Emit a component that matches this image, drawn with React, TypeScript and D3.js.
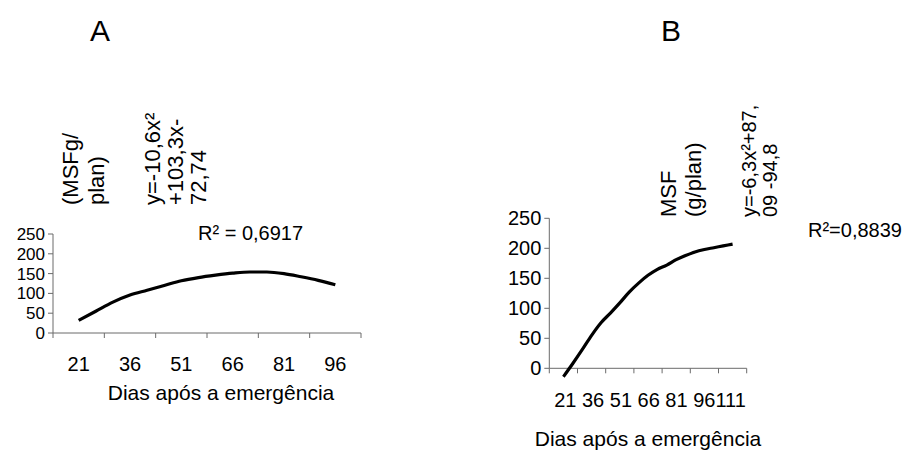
import React from "react";
import * as d3 from "d3";

// ---- Data ----
const daysA = [21, 26, 31, 36, 41, 46, 51, 56, 61, 66, 71, 76, 81, 86, 91, 96];
const valuesA = [32, 55, 78, 96, 108, 120, 132, 140, 146, 151, 154, 154, 150, 142, 133, 122];
const tickLabelsA = [21, 36, 51, 66, 81, 96];

const daysB = [21, 26, 31, 36, 41, 46, 51, 56, 61, 66, 71, 76, 81, 86, 91, 96, 101, 106, 111];
const valuesB = [-14, 8, 31, 55, 76, 92, 109, 127, 142, 155, 165, 172, 181, 188, 194, 198, 201, 204, 207];
const tickLabelsB = [21, 36, 51, 66, 81, 96, 111];

const yTicks = [0, 50, 100, 150, 200, 250];

const FONT = "'Liberation Sans', Arial, sans-serif";

type PanelProps = {
  days: number[];
  values: number[];
  cats: number[];
  x0: number;
  x1: number;
  yTop: number;
  yBot: number;
  tickBaseline: number;
  yFont: number;
  compact?: boolean;
};

function Panel({ days, values, cats, x0, x1, yTop, yBot, tickBaseline, yFont, compact }: PanelProps) {
  const step = 15;
  const dMin = cats[0] - step / 2;
  const dMax = cats[cats.length - 1] + step / 2;
  const x = d3.scaleLinear().domain([dMin, dMax]).range([x0, x1]);
  const y = d3.scaleLinear().domain([0, 250]).range([yBot, yTop]);
  const line = d3
    .line<number>()
    .x((_, i) => x(days[i]))
    .y((v) => y(v))
    .curve(d3.curveMonotoneX);
  const bounds = d3.range(cats.length + 1).map((i) => dMin + i * step);
  const axisColor = "#6b6b6b";
  return (
    <g>
      <line x1={x0} x2={x0} y1={y(250)} y2={y(0)} stroke={axisColor} strokeWidth={1} />
      <line x1={x0} x2={x1} y1={y(0)} y2={y(0)} stroke={axisColor} strokeWidth={1} />
      {yTicks.map((t) => (
        <g key={t}>
          <line x1={x0 - 5} x2={x0} y1={y(t)} y2={y(t)} stroke={axisColor} />
          <text
            x={x0 - 8}
            y={y(t)}
            dy="0.35em"
            textAnchor="end"
            fontSize={yFont}
            fontFamily={FONT}
            fill="#000"
          >
            {t}
          </text>
        </g>
      ))}
      {bounds.map((b, i) => (
        <line key={i} x1={x(b)} x2={x(b)} y1={y(0)} y2={y(0) + 5} stroke={axisColor} />
      ))}
      {compact ? (
        <text x={(x0 + x1) / 2 + 2} y={tickBaseline} textAnchor="middle" fontSize={20} fontFamily={FONT} fill="#000">
          {cats.map((c) => String(c)).join(" ").replace("96 111", "96111")}
        </text>
      ) : (
        cats.map((c) => (
          <text key={c} x={x(c)} y={tickBaseline} textAnchor="middle" fontSize={20} fontFamily={FONT} fill="#000">
            {c}
          </text>
        ))
      )}
      <path d={line(values) || ""} fill="none" stroke="#000" strokeWidth={3.2} strokeLinejoin="round" />
    </g>
  );
}

function VText({ x, y, text, size = 22 }: { x: number; y: number; text: string; size?: number }) {
  return (
    <text
      transform={`translate(${x},${y}) rotate(-90)`}
      fontSize={size}
      fontFamily={FONT}
      fill="#000"
      textAnchor="start"
    >
      {text}
    </text>
  );
}

export default function App() {
  return (
    <svg
      width={907}
      height={454}
      style={{ position: "absolute", left: 0, top: 0, background: "#fff" }}
    >
      <rect width={907} height={454} fill="#fff" />
      {/* Titles */}
      <text x={100} y={41} textAnchor="middle" fontSize={30} fontFamily={FONT}>A</text>
      <text x={671} y={41} textAnchor="middle" fontSize={30} fontFamily={FONT}>B</text>

      {/* Panel A */}
      <Panel
        days={daysA}
        values={valuesA}
        cats={tickLabelsA}
        x0={53}
        x1={361}
        yTop={234}
        yBot={333}
        tickBaseline={371}
        yFont={17}
      />
      <VText x={78} y={205} text="(MSFg/" />
      <VText x={104} y={205} text="plan)" />
      <VText x={160} y={205} text="y=-10,6x²" />
      <VText x={183} y={205} text="+103,3x-" />
      <VText x={206} y={205} text="72,74" />
      <text x={198} y={240} fontSize={20} fontFamily={FONT}>R² = 0,6917</text>
      <text x={221} y={400} textAnchor="middle" fontSize={21} fontFamily={FONT}>Dias após a emergência</text>

      {/* Panel B */}
      <Panel
        days={daysB}
        values={valuesB}
        cats={tickLabelsB}
        x0={549.3}
        x1={746.7}
        yTop={218.3}
        yBot={368.3}
        tickBaseline={407}
        yFont={20}
        compact
      />
      <VText x={676} y={217} text="MSF" />
      <VText x={701} y={217} text="(g/plan)" />
      <VText x={756} y={217} text="y=-6,3x²+87," size={20} />
      <VText x={777} y={217} text="09 -94,8" size={20} />
      <text x={808} y={237} fontSize={20} fontFamily={FONT}>R²=0,8839</text>
      <text x={648} y={446} textAnchor="middle" fontSize={21} fontFamily={FONT}>Dias após a emergência</text>
    </svg>
  );
}
